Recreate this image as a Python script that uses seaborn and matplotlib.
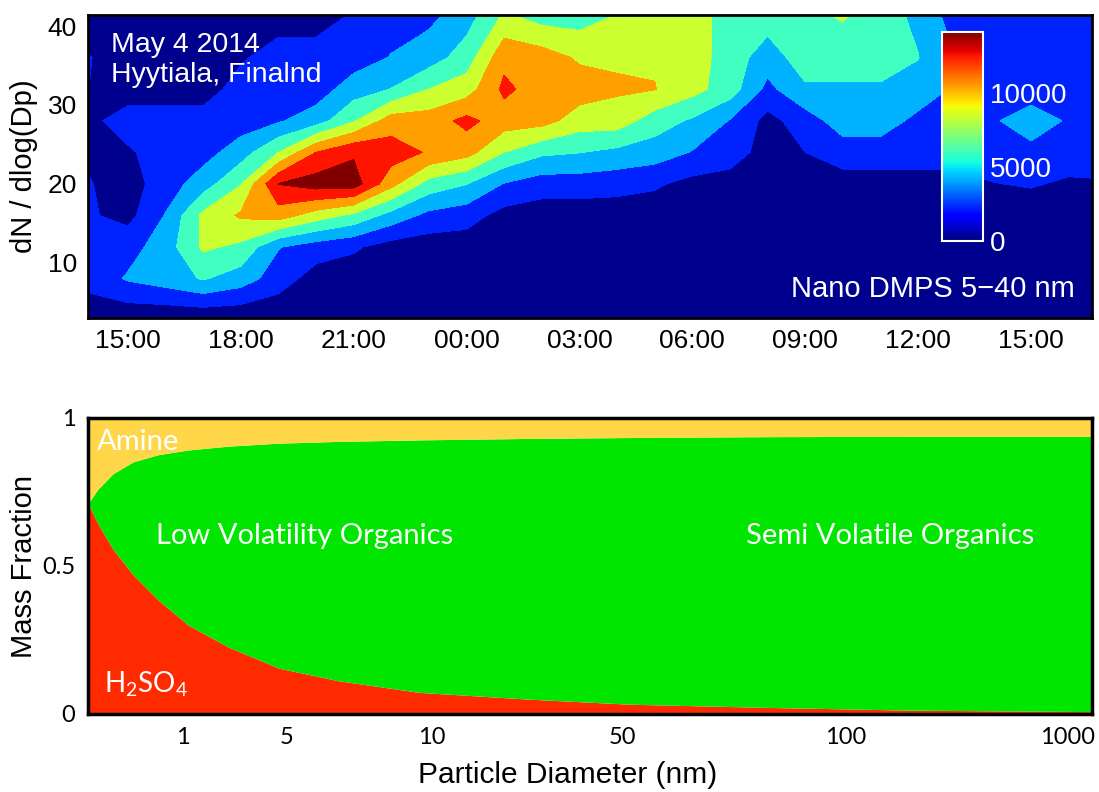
import numpy as np
import matplotlib
matplotlib.use("Agg")
import matplotlib.pyplot as plt
from matplotlib.colors import Normalize
import matplotlib.cm as cm
import seaborn as sns

sns.set_theme(style="white")
plt.rcParams['font.family'] = ['Liberation Sans', 'DejaVu Sans']
plt.rcParams['mathtext.fontset'] = 'custom'
plt.rcParams['mathtext.rm'] = 'Lato'
for k in ['text.color', 'axes.labelcolor', 'xtick.color', 'ytick.color']:
    plt.rcParams[k] = 'black'

# ---------------- top panel data ----------------
hours = [13.9, 15, 16, 17, 18, 19, 20, 21, 22, 23, 24, 25, 26, 27, 28,
         29, 30, 31, 32, 33, 34, 35, 36, 37, 38, 39, 40, 41]
dp_rows = [3, 8, 12, 16, 20, 24, 28, 32, 36, 41.5]

n_dp03 = [900, 500, 400, 400, 400, 400, 400, 400, 400, 400, 400, 400, 400, 400,
          400, 400, 400, 400, 400, 400, 400, 400, 400, 400, 400, 400, 400, 400]
n_dp08 = [2200, 3700, 4400, 5400, 4400, 2600, 1000, 800, 800, 800, 800, 800, 800, 800,
          800, 800, 800, 800, 800, 800, 800, 800, 800, 800, 800, 800, 800, 800]
n_dp12 = [2600, 2800, 4400, 7300, 6600, 3600, 2600, 2000, 1000, 800, 800, 800, 800, 800,
          800, 800, 800, 800, 800, 800, 800, 800, 800, 800, 800, 800, 800, 800]
n_dp16 = [2000, 1200, 3600, 7400, 9000, 9600, 7900, 6600, 4600, 3000, 2500, 1100, 800, 800,
          800, 800, 800, 800, 800, 800, 800, 800, 800, 800, 800, 800, 800, 800]
n_dp20 = [1900, 1000, 2600, 4400, 6900, 12300, 13100, 13100, 9300, 6300, 5300, 3400, 2600, 2600,
          2400, 2000, 1200, 1000, 1000, 1000, 1000, 1000, 1000, 1000, 1700, 1900, 1500, 1600]
n_dp24 = [1500, 1500, 2600, 2800, 4400, 7000, 10500, 12000, 11400, 10300, 9400, 7000, 5600, 5300,
          4800, 4400, 3400, 2600, 1000, 1750, 2600, 2600, 2600, 2600, 2600, 3000, 2600, 2600]
n_dp28 = [1200, 2600, 2600, 2600, 2600, 3300, 4400, 6800, 9600, 9600, 11000, 9600, 9400, 7900,
          7900, 6100, 5000, 3400, 1200, 2600, 4400, 4400, 3000, 2600, 3300, 4400, 3300, 2600]
n_dp32 = [1800, 800, 800, 800, 2600, 2600, 2600, 4400, 5300, 7000, 7900, 10900, 9600, 9600,
          9000, 8800, 7600, 6100, 3000, 5000, 5000, 5000, 4600, 3200, 2600, 2600, 2600, 2600]
n_dp36 = [1900, 800, 800, 800, 1500, 2600, 2600, 2600, 3600, 4400, 6100, 10000, 9600, 8500,
          8500, 8600, 7900, 6100, 4400, 6100, 6100, 6100, 5300, 3500, 2600, 2600, 2600, 2600]
n_dp40 = [800, 800, 800, 800, 800, 800, 800, 1900, 2600, 3000, 4400, 7200, 6100, 6100,
          7000, 7900, 7900, 6100, 6100, 6600, 7200, 6100, 4800, 2600, 2600, 2600, 2600, 2600]

levels = [0, 1750, 3500, 5250, 7000, 8750, 10500, 12250, 14000]
band_colors = ['#00008f', '#0022ff', '#00b2ff', '#40ffc0', '#cbff30',
               '#ffa000', '#ff1400', '#800000']

time_ticks = [15, 18, 21, 24, 27, 30, 33, 36, 39]
time_labels = ['15:00', '18:00', '21:00', '00:00', '03:00', '06:00', '09:00', '12:00', '15:00']
dp_ticks = [10, 20, 30, 40]
cbar_ticks = [0, 5000, 10000]

# ---------------- bottom panel data ----------------
diam_pos = [0.0, 0.01, 0.025, 0.045, 0.07, 0.10, 0.14, 0.19, 0.25, 0.33,
            0.44, 0.54, 0.68, 0.82, 1.0]
h2so4_frac = [0.711, 0.642, 0.556, 0.470, 0.385, 0.300, 0.226, 0.155, 0.112, 0.073,
              0.050, 0.033, 0.022, 0.013, 0.008]
amine_frac = [0.289, 0.240, 0.188, 0.148, 0.124, 0.108, 0.095, 0.085, 0.079, 0.074,
              0.069, 0.066, 0.063, 0.062, 0.062]
diam_tick_pos = [0.095, 0.198, 0.342, 0.532, 0.755, 0.976]
diam_tick_labels = ['1', '5', '10', '50', '100', '1000']
frac_ticks = [0, 0.5, 1]
frac_tick_labels = ['0', '0.5', '1']

# ---------------- figure ----------------
W, H = 1099, 792
fig = plt.figure(figsize=(W / 100, H / 100), dpi=100)

def box(x0, y0, x1, y1):
    return [x0 / W, 1 - y1 / H, (x1 - x0) / W, (y1 - y0) / H]

ax1 = fig.add_axes(box(88, 15, 1092, 318))
Z = np.array([n_dp03, n_dp08, n_dp12, n_dp16, n_dp20, n_dp24, n_dp28, n_dp32, n_dp36, n_dp40])
ax1.contourf(hours, dp_rows, Z, levels=levels, colors=band_colors, antialiased=False)
ax1.set_xlim(13.94, 40.62)
ax1.set_ylim(3.0, 41.4)
ax1.set_xticks(time_ticks)
ax1.set_xticklabels(time_labels)
ax1.set_yticks(dp_ticks)
ax1.tick_params(axis='both', direction='in', length=5, width=1.2, colors='black',
                labelsize=19, top=True, right=True, bottom=True, left=True, pad=8)
ax1.set_ylabel('dN / dlog(Dp)', fontsize=21)
ax1.yaxis.set_label_coords(-0.05, 0.5)
for s in ax1.spines.values():
    s.set_color('black')
    s.set_linewidth(2.0)

ax1.text(0.023, 0.945, 'May 4 2014\nHyytiala, Finalnd', transform=ax1.transAxes,
         color='white', fontsize=20.5, va='top', ha='left', linespacing=1.2)
ax1.text(0.983, 0.05, 'Nano DMPS 5\u221240 nm', transform=ax1.transAxes,
         color='white', fontsize=21, va='bottom', ha='right')

cax = fig.add_axes(box(942, 32, 983, 241))
sm = cm.ScalarMappable(norm=Normalize(0, 14100), cmap='jet')
cb = fig.colorbar(sm, cax=cax, ticks=cbar_ticks)
cb.outline.set_edgecolor('white')
cb.outline.set_linewidth(1.5)
cax.tick_params(length=0, labelcolor='white', labelsize=20, pad=5)

# bottom panel
ax2 = fig.add_axes(box(88, 418, 1092, 714))
organic_frac = [1 - a - b for a, b in zip(h2so4_frac, amine_frac)]
ax2.stackplot(diam_pos, h2so4_frac, organic_frac, amine_frac,
              colors=['#ff2a00', '#00e600', '#ffd648'], linewidth=0)
ax2.set_xlim(0, 1)
ax2.set_ylim(0, 1)
ax2.set_xticks(diam_tick_pos)
ax2.set_xticklabels(diam_tick_labels, family='Lato')
ax2.set_yticks(frac_ticks)
ax2.set_yticklabels(frac_tick_labels, family='Lato')
ax2.tick_params(axis='both', length=0, labelsize=17, colors='black', pad=9)
ax2.set_ylabel('Mass Fraction', fontsize=21)
ax2.yaxis.set_label_coords(-0.05, 0.5)
ax2.set_xlabel('Particle Diameter (nm)', fontsize=21.5)
ax2.xaxis.set_label_coords(0.478, -0.16)
for s in ax2.spines.values():
    s.set_color('black')
    s.set_linewidth(2.5)

lbl = dict(color='white', family='Lato', fontsize=21, va='center')
ax2.text(0.009, 0.918, 'Amine', ha='left', **lbl)
ax2.text(0.068, 0.6, 'Low Volatility Organics', ha='left', **lbl)
ax2.text(0.655, 0.6, 'Semi Volatile Organics', ha='left', **lbl)
ax2.text(0.016, 0.1, r'H$_\mathregular{2}$SO$_\mathregular{4}$', ha='left',
         color='white', family='Lato', fontsize=20, va='center')

fig.savefig('out.png', dpi=100)
